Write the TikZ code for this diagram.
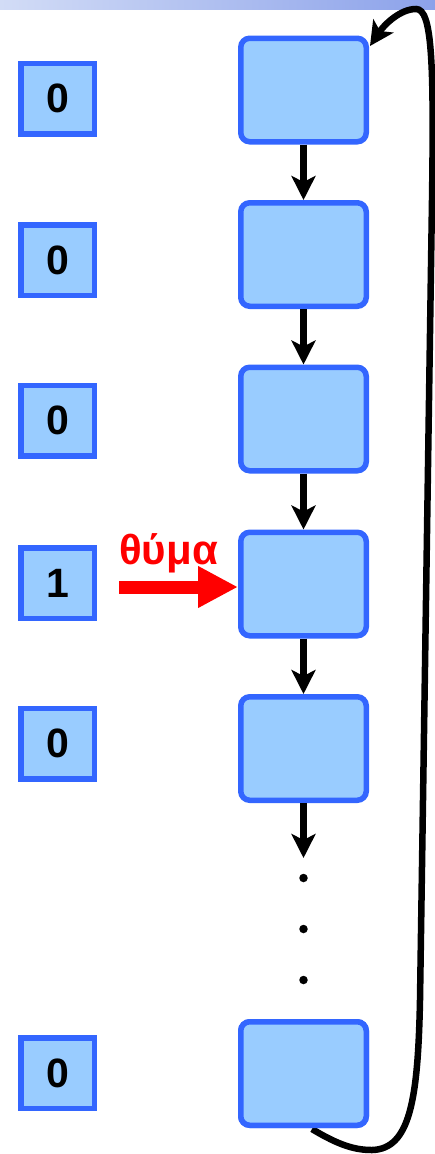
\documentclass[tikz,border=0pt]{standalone}
\usepackage{fontspec}
\setmainfont{Liberation Sans}
\usetikzlibrary{arrows.meta}
\definecolor{boxfill}{HTML}{99CCFF}
\definecolor{boxline}{HTML}{3366FF}
\definecolor{bandL}{HTML}{D2DCF6}
\definecolor{bandR}{HTML}{8CA2EA}
\begin{document}
\begin{tikzpicture}[x=1pt,y=-1pt,
  bigbox/.style={draw=boxline,fill=boxfill,line width=5.5pt,rounded corners=9pt,
    minimum width=125.5pt,minimum height=103.5pt,inner sep=0pt},
  bitbox/.style={draw=boxline,fill=boxfill,line width=5.5pt,
    minimum width=73.5pt,minimum height=70.5pt,inner sep=0pt,
    font=\fontsize{41}{41}\selectfont\bfseries},
  link/.style={line width=7pt,-{Stealth[length=24pt,width=24pt,inset=6pt]}},
  dotmark/.style={circle,fill=black,inner sep=0pt,minimum size=8.5pt}
]
\useasboundingbox (0,0) rectangle (435,1154);
\shade[left color=bandL,right color=bandR] (0,0) rectangle (435,9);

% big boxes
\node[bigbox] (b1) at (303.5,90) {};
\node[bigbox] (b2) at (303.5,254.5) {};
\node[bigbox] (b3) at (303.5,419) {};
\node[bigbox] (b4) at (303.5,584) {};
\node[bigbox] (b5) at (303.5,748.5) {};
\node[bigbox] (b6) at (303.5,1073.5) {};

% bit boxes
\node[bitbox] (s1) at (57.5,98.5) {0};
\node[bitbox] (s2) at (57.5,260) {0};
\node[bitbox] (s3) at (57.5,420.5) {0};
\node[bitbox] (s4) at (57.5,583) {1};
\node[bitbox] (s5) at (57.5,743.5) {0};
\node[bitbox] (s6) at (57.5,1073) {0};

% arrows between boxes
\draw[link] (b1.south) -- (b2.north);
\draw[link] (b2.south) -- (b3.north);
\draw[link] (b3.south) -- (b4.north);
\draw[link] (b4.south) -- (b5.north);
\coordinate (d0) at (303.5,858);
\draw[link] (b5.south) -- (d0);

% dots
\node[dotmark] (d1) at (303.5,878) {};
\node[dotmark] (d2) at (303.5,929) {};
\node[dotmark] (d3) at (303.5,980) {};

% victim arrow
\coordinate (vstart) at (119,587);
\draw[red,line width=13pt,-{Triangle[length=40pt,width=39pt]}] (vstart) -- (b4.west |- vstart);
\node[anchor=base west,inner sep=0pt,text=red,font=\fontsize{42}{42}\selectfont\bfseries] (lab) at (119,564) {θύμα};

% return loop
\coordinate (lstart) at (312,1129);
\coordinate (ltip) at (370,46);
\draw[line width=6.5pt,-{Stealth[length=24pt,width=24pt,inset=6pt]}]
  (lstart) .. controls (340,1146) and (356,1150) .. (372,1150)
  .. controls (410,1149) and (418,1100) .. (420,1000)
  -- (432,200)
  .. controls (434,60) and (432,9) .. (416,9)
  .. controls (400,9) and (384,25) .. (ltip);
\node[bigbox] at (b6) {};
\end{tikzpicture}
\end{document}
